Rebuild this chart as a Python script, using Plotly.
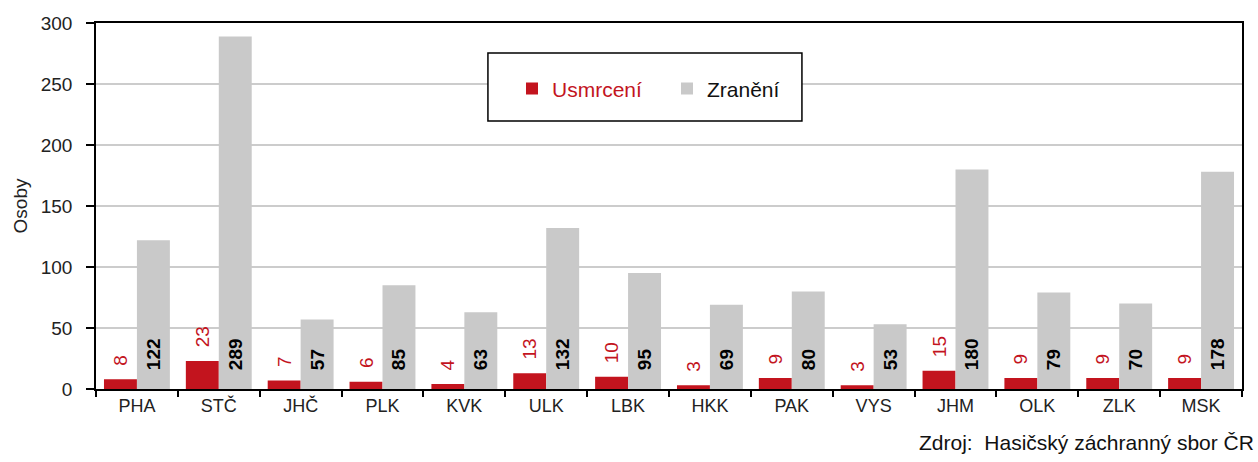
import plotly.graph_objects as go

categories = ["PHA", "STČ", "JHČ", "PLK", "KVK", "ULK", "LBK", "HKK", "PAK", "VYS", "JHM", "OLK", "ZLK", "MSK"]
usmrceni = [8, 23, 7, 6, 4, 13, 10, 3, 9, 3, 15, 9, 9, 9]
zraneni = [122, 289, 57, 85, 63, 132, 95, 69, 80, 53, 180, 79, 70, 178]
y_ticks = [0, 50, 100, 150, 200, 250, 300]

RED = "#c3141e"
GRAY = "#c9c9c9"
FONT = "Liberation Sans, Arial, sans-serif"
PAD = "\u00a0"

fig = go.Figure()
fig.add_trace(go.Bar(
    x=categories, y=usmrceni,
    name="<span style='color:%s'>Usmrcení</span>" % RED,
    marker=dict(color=RED, line=dict(width=0)),
    text=[PAD * 2 + str(v) for v in usmrceni], textposition="outside", textangle=-90,
    textfont=dict(family=FONT, size=19, color=RED),
    constraintext="none", cliponaxis=False,
))
fig.add_trace(go.Bar(
    x=categories, y=zraneni,
    name="Zranění",
    marker=dict(color=GRAY, line=dict(width=0)),
    text=[PAD * 3 + str(v) for v in zraneni], textposition="inside", insidetextanchor="start",
    textangle=-90,
    textfont=dict(family=FONT, size=19, color="black", weight="bold"),
    constraintext="none",
))

fig.update_layout(
    width=1258, height=462,
    margin=dict(l=96, r=16, t=23, b=73),
    paper_bgcolor="white", plot_bgcolor="white",
    barmode="group", bargap=0.195, bargroupgap=0,
    font=dict(family=FONT, size=18, color="#222"),
    showlegend=True,
    legend=dict(orientation="h", x=0.363, y=0.820, xanchor="left", yanchor="middle",
                bgcolor="rgba(0,0,0,0)", font=dict(family=FONT, size=21, color="#111"),
                entrywidth=110, traceorder="normal"),
    shapes=[dict(type="rect", xref="paper", yref="paper", x0=0.342, x1=0.616, y0=0.732, y1=0.918,
                 line=dict(color="black", width=1.5), fillcolor="white", layer="above")],
    annotations=[dict(text="Zdroj:  Hasičský záchranný sbor ČR", xref="paper", yref="paper",
                      x=1.012, y=-0.11, xanchor="right", yanchor="top", showarrow=False,
                      font=dict(family=FONT, size=21, color="#111"))],
    xaxis=dict(
        showline=True, linecolor="black", linewidth=1.5, mirror=True,
        ticks="outside", tickson="boundaries", ticklen=6, tickcolor="black", tickwidth=1.5,
        tickfont=dict(family=FONT, size=18, color="#222"), showgrid=False,
    ),
    yaxis=dict(
        range=[0, 300], tickvals=y_ticks, showline=True, linecolor="black", linewidth=1.5,
        mirror=True, ticks="outside", ticklen=8, tickcolor="black", tickwidth=1.5,
        ticklabelstandoff=10, tickfont=dict(family=FONT, size=19, color="#222"),
        showgrid=True, gridcolor="#cccccc", gridwidth=1.5, zeroline=False,
        title=dict(text="Osoby", font=dict(family=FONT, size=19, color="#222"), standoff=8),
    ),
    yaxis2=dict(overlaying="y", range=[0, 300], tickvals=y_ticks, ticks="inside", ticklen=7,
                tickcolor="black", tickwidth=1.5, showticklabels=False, showgrid=False,
                showline=False, zeroline=False, side="left"),
)

fig.write_html("out.html", config={"displayModeBar": False},
               post_script="document.body.style.margin='0';")
